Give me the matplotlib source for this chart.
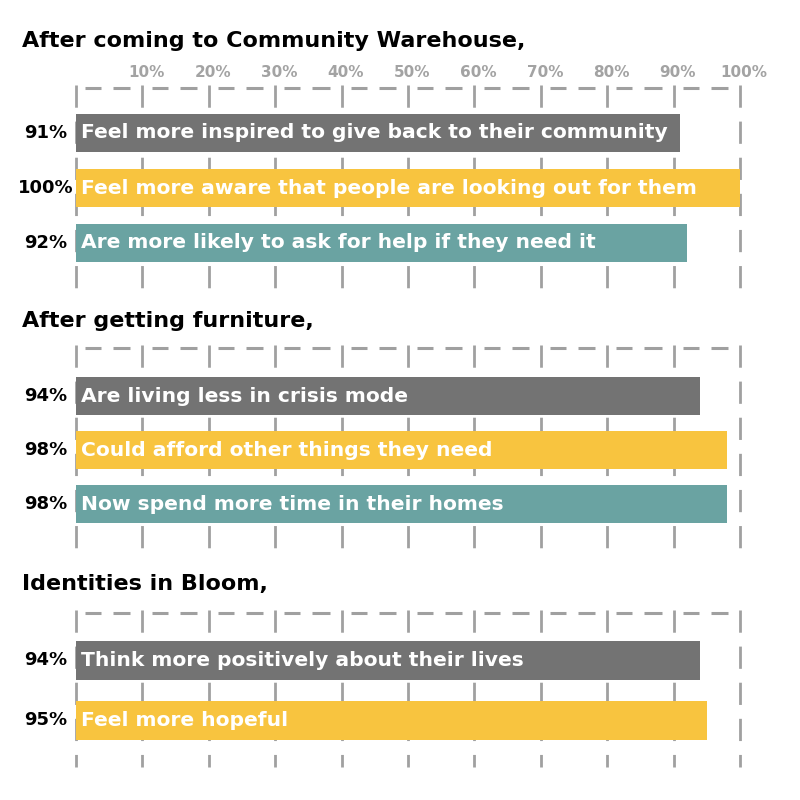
import matplotlib
matplotlib.use("Agg")
import matplotlib.pyplot as plt
import matplotlib.transforms as mtransforms
import numpy as np

# ---- data ----
section_titles = [
    "After coming to Community Warehouse,",
    "After getting furniture,",
    "Identities in Bloom,",
]
values_warehouse = [91, 100, 92]
labels_warehouse = [
    "Feel more inspired to give back to their community",
    "Feel more aware that people are looking out for them",
    "Are more likely to ask for help if they need it",
]
values_furniture = [94, 98, 98]
labels_furniture = [
    "Are living less in crisis mode",
    "Could afford other things they need",
    "Now spend more time in their homes",
]
values_bloom = [94, 95]
labels_bloom = [
    "Think more positively about their lives",
    "Feel more hopeful",
]
tick_values = [10, 20, 30, 40, 50, 60, 70, 80, 90, 100]

# ---- style ----
GREY = "#737373"
YELLOW = "#F8C43F"
TEAL = "#6AA3A2"
GRID = "#a0a0a0"
bar_colors = [GREY, YELLOW, TEAL]

W = H = 800
fig = plt.figure(figsize=(8, 8), dpi=100)
fig.patch.set_facecolor("white")

def fx(px):
    return px / W

def fy(py):
    return 1 - py / H

# panel layout in pixels: (axes top, axes bottom, first bar centre, bar spacing, title baseline, bar height)
panels = [
    (values_warehouse, labels_warehouse, 85, 290, 133, 55, 47, 0.69),
    (values_furniture, labels_furniture, 345, 550, 396, 54, 327, 0.69),
    (values_bloom, labels_bloom, 610, 767, 660, 60, 590, 0.65),
]
x0_px, x1_px = 76, 740

for i, (vals, labs, top, bot, c0, sp, tb, bh) in enumerate(panels):
    n = len(vals)
    ax = fig.add_axes([fx(x0_px), fy(bot), fx(x1_px - x0_px), (bot - top) / H])
    ylo = -(c0 - top) / sp
    yhi = (n - 1) + (bot - (c0 + (n - 1) * sp)) / sp
    ax.set_xlim(0, 100)
    ax.set_ylim(yhi, ylo)
    ax.axis("off")

    # vertical dashed grid
    for t in [0] + tick_values:
        ax.plot([t, t], [ylo, yhi], color=GRID, lw=2, dashes=(8, 5),
                solid_capstyle="butt", dash_capstyle="butt", zorder=1, clip_on=False)
    # top dashed line, two dashes per 10% cell
    for c in range(0, 100, 10):
        for a, b in [(1.4, 3.8), (5.6, 8.2)]:
            ax.plot([c + a, c + b], [ylo + 0.05, ylo + 0.05], color=GRID, lw=2.2,
                    solid_capstyle="butt", zorder=1, clip_on=False)

    y = np.arange(n)
    ax.barh(y, vals, height=bh, color=bar_colors[:n], zorder=2)
    for yy, v, lab in zip(y, vals, labs):
        ax.text(0.7, yy, lab, color="white", fontsize=14.6, fontweight="bold",
                va="center", ha="left", zorder=3)
        ax.text(-4.5, yy, f"{v}%", color="black", fontsize=13, fontweight="bold",
                va="center", ha="center", zorder=3, clip_on=False)

    fig.text(fx(22), fy(tb), section_titles[i], fontsize=16, fontweight="bold",
             color="black", va="baseline", ha="left")

    if i == 0:
        tick_tf = mtransforms.blended_transform_factory(ax.transData, fig.transFigure)
        for t in tick_values:
            ax.text(t + 0.6, fy(77), f"{t}%", color="#a3a3a3", fontsize=11,
                    fontweight="bold", ha="center", va="baseline",
                    transform=tick_tf, clip_on=False)

fig.savefig("out.png", dpi=100, facecolor="white")
